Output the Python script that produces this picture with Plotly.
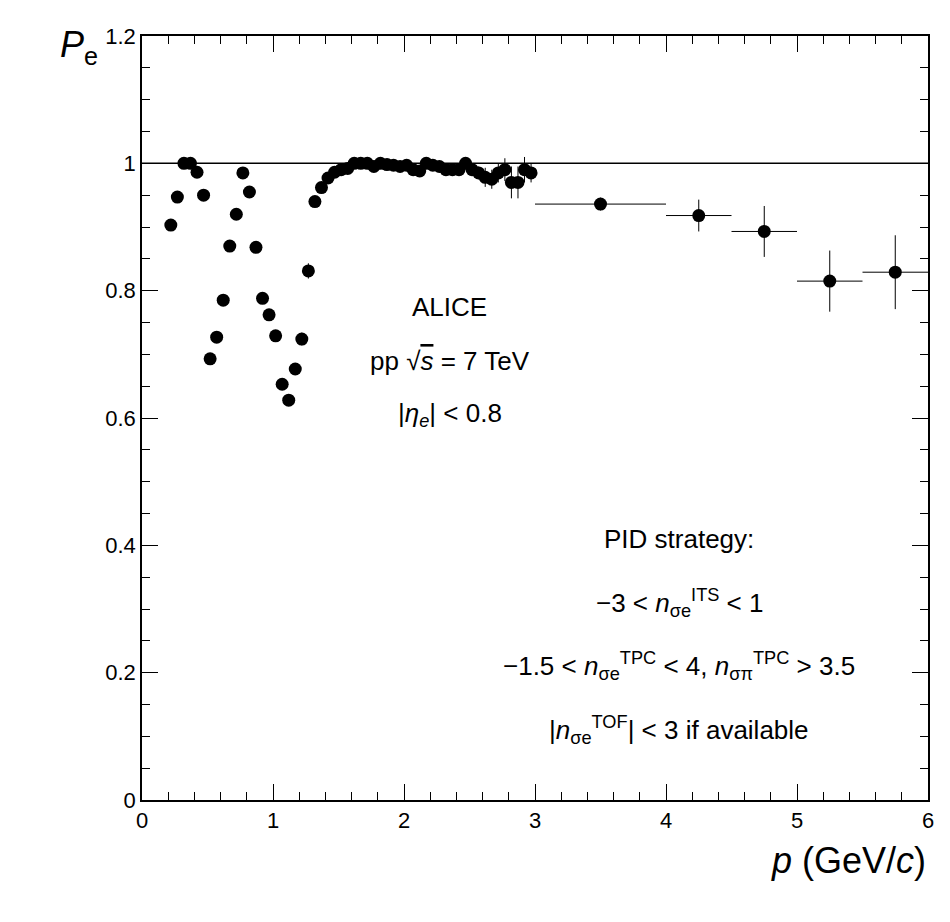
import plotly.graph_objects as go

p_low = [0.22, 0.27, 0.32, 0.37, 0.42, 0.47, 0.52, 0.57, 0.62, 0.67, 0.72, 0.77,
         0.82, 0.87, 0.92, 0.97, 1.02, 1.07, 1.12, 1.17, 1.22, 1.27,
         1.32, 1.37, 1.42, 1.47, 1.52, 1.57, 1.62, 1.67, 1.72, 1.77, 1.82, 1.87,
         1.92, 1.97, 2.02, 2.07, 2.12, 2.17, 2.22, 2.27, 2.32, 2.37, 2.42, 2.47,
         2.52, 2.57, 2.62, 2.67, 2.72, 2.77, 2.82, 2.87, 2.92, 2.97]
pe_low = [0.903, 0.947, 1.0, 1.0, 0.986, 0.95, 0.693, 0.727, 0.785, 0.87, 0.92, 0.985,
          0.955, 0.868, 0.788, 0.762, 0.729, 0.653, 0.628, 0.677, 0.724, 0.831,
          0.94, 0.962, 0.977, 0.986, 0.99, 0.992, 1.0, 1.0, 1.0, 0.995, 1.0, 0.998,
          0.997, 0.995, 0.997, 0.99, 0.988, 1.0, 0.997, 0.995, 0.99, 0.99, 0.99, 1.0,
          0.99, 0.985, 0.978, 0.975, 0.985, 0.99, 0.97, 0.97, 0.99, 0.985]
err_low = [0.003] * 20 + [0.01, 0.012] + [0.004] * 24 + [0.01, 0.01, 0.015, 0.015,
           0.015, 0.018, 0.025, 0.025, 0.02, 0.015]

p_high = [3.5, 4.25, 4.75, 5.25, 5.75]
p_halfwidth = [0.5, 0.25, 0.25, 0.25, 0.25]
pe_high = [0.936, 0.918, 0.893, 0.815, 0.829]
err_high = [0.01, 0.025, 0.04, 0.048, 0.058]

fig = go.Figure()
fig.add_trace(go.Scatter(x=p_low, y=pe_low, mode="markers",
                         marker=dict(color="black", size=13),
                         error_y=dict(array=err_low, color="black", thickness=1, width=0)))
fig.add_trace(go.Scatter(x=p_high, y=pe_high, mode="markers",
                         marker=dict(color="black", size=13),
                         error_x=dict(array=p_halfwidth, color="black", thickness=1, width=0),
                         error_y=dict(array=err_high, color="black", thickness=1, width=0)))
fig.add_hline(y=1, line=dict(color="black", width=1.5))

axis = dict(showgrid=False, zeroline=False, showline=True, linecolor="black", linewidth=1.5,
            mirror="allticks", ticks="inside", ticklen=16, tickcolor="black",
            tickfont=dict(size=22, color="black"), automargin=False,
            minor=dict(ticks="inside", ticklen=8, tickcolor="black"))
fig.update_xaxes(axis, range=[0, 6], tickvals=[0, 1, 2, 3, 4, 5, 6], minor_dtick=0.2)
fig.update_yaxes(axis, range=[0, 1.2], tickvals=[0, 0.2, 0.4, 0.6, 0.8, 1.0, 1.2],
                 ticktext=["0", "0.2", "0.4", "0.6", "0.8", "1", "1.2"], minor_dtick=0.05)

fig.add_annotation(x=1, y=0, xref="paper", yref="paper", xanchor="right", yanchor="top",
                   yshift=-38, text="<i>p</i> (GeV/<i>c</i>)", showarrow=False,
                   font=dict(size=36, color="black"))
fig.add_annotation(x=0, y=1, xref="paper", yref="paper", xanchor="right", yanchor="top",
                   xshift=-42, yshift=14, text="<i>P</i><sub>e</sub>", showarrow=False,
                   font=dict(size=36, color="black"))

texts = [
    (2.35, 0.775, "ALICE"),
    (2.35, 0.69, "pp √<span style='text-decoration:overline'><i>s</i></span> = 7 TeV"),
    (2.35, 0.605, "|<i>η</i><sub><i>e</i></sub>| < 0.8"),
    (4.1, 0.41, "PID strategy:"),
    (4.1, 0.31, "−3 < <i>n</i><sub>σe</sub><sup>ITS</sup> < 1"),
    (4.1, 0.21, "−1.5 < <i>n</i><sub>σe</sub><sup>TPC</sup> < 4, <i>n</i><sub>σπ</sub><sup>TPC</sup> > 3.5"),
    (4.1, 0.11, "|<i>n</i><sub>σe</sub><sup>TOF</sup>| < 3 if available"),
]
for x, y, t in texts:
    fig.add_annotation(x=x, y=y, text=t, showarrow=False, font=dict(size=26, color="black"))

fig.update_layout(width=950, height=922, plot_bgcolor="white", paper_bgcolor="white",
                  showlegend=False, font=dict(family="Liberation Sans", color="black"),
                  margin=dict(l=134, r=30, t=28, b=130))
fig.write_html("out.html")
